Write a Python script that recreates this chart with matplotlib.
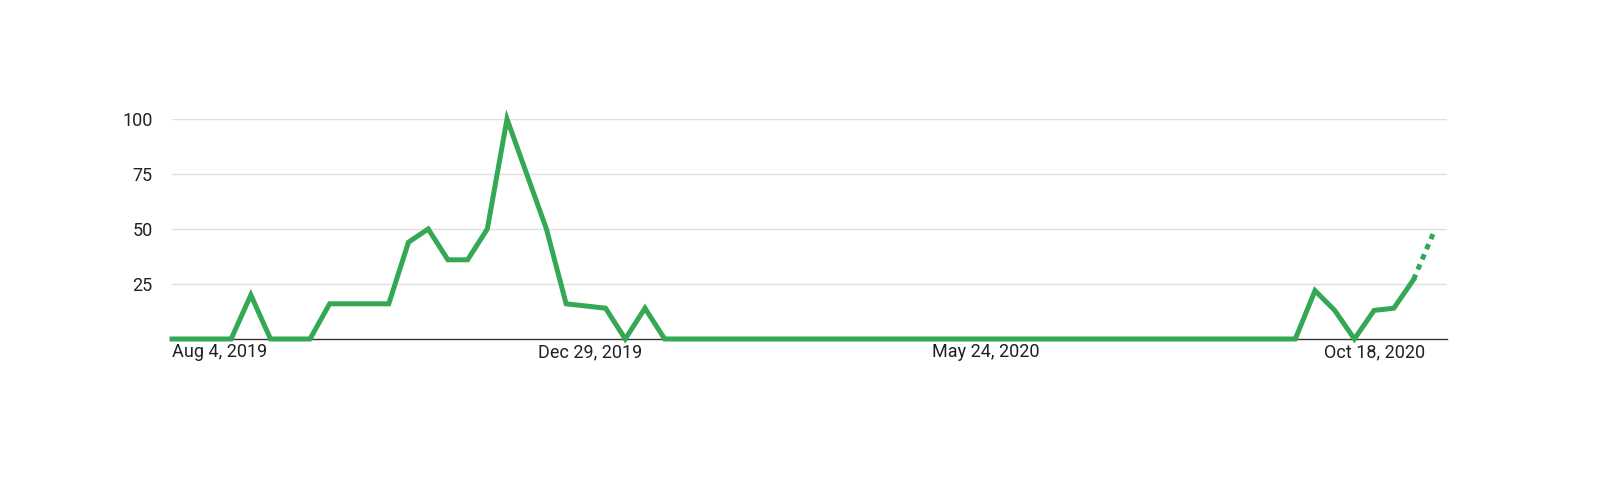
import matplotlib.pyplot as plt

# weekly interest, Aug 4 2019 .. Oct 25 2020 (last week partial)
weeks = list(range(65))
values = [0, 0, 0, 0, 20, 0, 0, 0, 16, 16, 16, 16, 44, 50, 36, 36, 50, 100, 75, 50,
          16, 15, 14, 0, 14, 0] + [0] * 31 + [0, 22, 13, 0, 13, 14, 27, 48]
tick_pos = [0, 21.2, 41.3, 61.0]
tick_labels = ["Aug 4, 2019", "Dec 29, 2019", "May 24, 2020", "Oct 18, 2020"]
y_ticks = [25, 50, 75, 100]

green = "#34a853"
plt.rcParams["font.family"] = "Roboto"

fig = plt.figure(figsize=(16, 4.84), dpi=100)
ax = fig.add_axes([0.1075, 0.2996, 0.7969, 0.4545])

ax.plot(weeks[:-1], values[:-1], color=green, lw=3.6, solid_joinstyle="miter", clip_on=False, zorder=3)
ax.plot(weeks[-2:], values[-2:], color=green, lw=3.6, ls=(0, (1.1, 1.1)), clip_on=False, zorder=3)

ax.set_xlim(0, 64.7)
ax.set_ylim(0, 100)
ax.set_yticks(y_ticks)
ax.set_yticklabels([str(v) for v in y_ticks])
ax.set_xticks(tick_pos)
ax.set_xticklabels(tick_labels)
ax.get_xticklabels()[0].set_ha("left")
ax.tick_params(length=0, labelsize=13, colors="#202124", pad=3)
ax.tick_params(axis="y", pad=14)

ax.grid(axis="y", color="#e0e0e0", lw=1)
for s in ["top", "right", "left"]:
    ax.spines[s].set_visible(False)
ax.spines["bottom"].set_color("#333333")
ax.spines["bottom"].set_linewidth(1)

fig.savefig("out.png", dpi=100)
